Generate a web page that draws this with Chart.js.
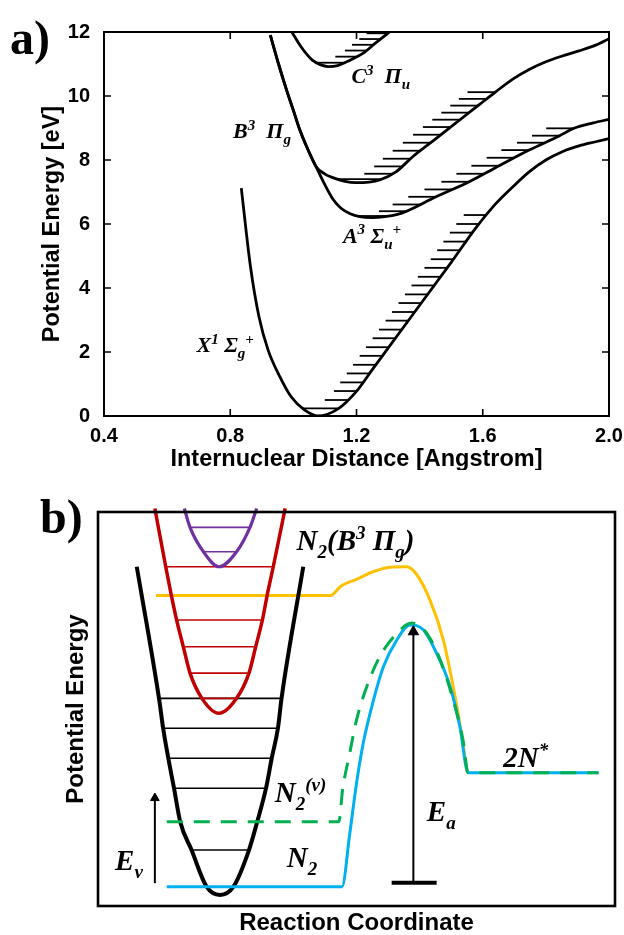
<!DOCTYPE html>
<html>
<head>
<meta charset="utf-8">
<script src="https://cdn.jsdelivr.net/npm/chart.js@4.4.0/dist/chart.umd.min.js"></script>
<style>
  html, body { margin: 0; padding: 0; background: #fff; }
  #wrap { position: relative; width: 624px; height: 935px; }
  canvas { position: absolute; left: 0; }
  #chartA { top: 0; }
  #chartB { top: 470px; }
</style>
</head>
<body>
<div id="wrap">
  <canvas id="chartA" width="624" height="470"></canvas>
  <canvas id="chartB" width="624" height="465"></canvas>
</div>
<script>
// ---------- panel a: N2 potential curves (r in Angstrom, E in eV) ----------
const xStateR = [0.835, 0.864, 0.891, 0.920, 0.957, 0.993, 1.035, 1.078, 1.144, 1.199, 1.25, 1.30, 1.40, 1.50, 1.58, 1.64, 1.694, 1.747, 1.80, 1.852, 1.905, 1.958, 2.0];
const xStateE = [7.12, 4.67, 3.10, 2.06, 1.23, 0.60, 0.19, 0.0, 0.24, 0.76, 1.45, 2.12, 3.46, 4.80, 5.90, 6.62, 7.15, 7.63, 8.0, 8.26, 8.44, 8.57, 8.67];
const xLevels = [0.24, 0.50, 0.78, 1.05, 1.33, 1.60, 1.88, 2.15, 2.43, 2.70, 2.98, 3.25, 3.53, 3.80, 4.08, 4.35, 4.63, 4.90, 5.18, 5.45, 5.73, 6.00, 6.28];

const aStateR = [0.927, 0.953, 0.978, 1.0, 1.02, 1.045, 1.072, 1.10, 1.125, 1.15, 1.18, 1.21, 1.25, 1.29, 1.33, 1.357, 1.452, 1.557, 1.652, 1.747, 1.842, 1.889, 1.95, 2.0];
const aStateE = [11.9, 11.0, 10.2, 9.55, 8.95, 8.35, 7.79, 7.22, 6.78, 6.50, 6.32, 6.23, 6.20, 6.23, 6.30, 6.39, 6.85, 7.32, 7.82, 8.31, 8.75, 8.99, 9.16, 9.27];
const aLevels = [6.25, 6.40, 6.61, 6.85, 7.08, 7.32, 7.57, 7.82, 8.07, 8.31, 8.54, 8.76, 8.99];

const bStateR = [0.927, 0.953, 0.978, 1.0, 1.02, 1.045, 1.072, 1.10, 1.125, 1.16, 1.199, 1.24, 1.273, 1.325, 1.378, 1.431, 1.484, 1.536, 1.589, 1.641, 1.694, 1.747, 1.80, 1.852, 1.905, 1.958, 2.0];
const bStateE = [11.9, 11.0, 10.2, 9.55, 8.95, 8.35, 7.79, 7.56, 7.45, 7.34, 7.29, 7.31, 7.375, 7.63, 8.10, 8.51, 8.92, 9.32, 9.73, 10.13, 10.52, 10.83, 11.07, 11.25, 11.41, 11.59, 11.79];
const bLevels = [7.40, 7.57, 7.80, 8.04, 8.29, 8.54, 8.79, 9.03, 9.26, 9.48, 9.70, 9.91, 10.12];

const cStateR = [0.995, 1.02, 1.04, 1.06, 1.085, 1.11, 1.14, 1.18, 1.22, 1.26, 1.305];
const cStateE = [12.0, 11.6, 11.33, 11.12, 10.98, 10.92, 10.95, 11.12, 11.33, 11.65, 12.0];
const cLevels = [11.04, 11.23, 11.42, 11.60, 11.78, 11.96];

const xTicksA = [0.4, 0.8, 1.2, 1.6, 2.0];
const yTicksA = [0, 2, 4, 6, 8, 10, 12];

// ---------- panel b: reaction coordinate sketch (arbitrary units 0-100) ----------
const blackX = [7.5, 11.8, 12.6, 13.6, 14.7, 15.9, 18.1, 21.0, 23.6, 26.2, 29.2, 30.8, 32.5, 33.6, 34.8, 35.5, 39.7];
const blackY = [86.1, 52.7, 45.1, 37.5, 29.9, 21.4, 14.2, 4.9, 2.8, 4.9, 14.2, 21.4, 29.9, 37.5, 45.1, 52.7, 86.1];
const blackLevels = [14.2, 29.9, 37.5, 45.1, 52.7];

const redX = [11.0, 13.1, 14.1, 15.2, 16.5, 17.8, 20.1, 23.4, 26.8, 29.2, 30.5, 31.8, 32.8, 33.9, 36.2];
const redY = [100.9, 86.1, 79.4, 72.6, 65.8, 59.1, 52.7, 48.9, 52.7, 59.1, 65.8, 72.6, 79.4, 86.1, 100.9];
const redLevels = [52.7, 59.1, 65.8, 72.6, 86.1];

const purpleX = [16.7, 17.8, 20.4, 23.4, 26.8, 29.4, 30.7];
const purpleY = [100.9, 96.1, 89.9, 86.1, 89.9, 96.1, 100.9];
const purpleLevels = [89.9, 96.1];

const orangeX = [11.2, 44.9, 47.1, 50.0, 53.3, 56.5, 59.7, 61.6, 64.2, 66.8, 68.7, 70.3, 71.4];
const orangeY = [78.8, 78.8, 81.3, 82.9, 84.9, 86.0, 86.1, 84.2, 77.7, 67.5, 55.7, 43.8, 34.0];

const cyanX = [13.3, 47.2, 48.7, 50.0, 51.3, 53.3, 55.2, 57.8, 60.3, 62.9, 65.5, 68.1, 70.0, 71.6, 96.8];
const cyanY = [4.9, 4.9, 18.4, 31.1, 41.3, 52.3, 60.7, 67.5, 71.3, 70.1, 64.1, 55.7, 45.5, 33.8, 33.8];

const greenX = [13.3, 46.6, 47.3, 48.7, 50.0, 52.0, 54.5, 57.8, 60.7, 63.6, 66.2, 68.7, 70.6, 71.6, 96.8];
const greenY = [21.4, 21.4, 29.4, 38.8, 47.2, 55.7, 63.3, 69.2, 71.8, 69.2, 62.4, 52.3, 42.1, 33.8, 33.8];

const evArrowX = [11.0, 11.0];
const evArrowY = [5.8, 27.4];
const eaArrowX = [61.0, 61.0];
const eaArrowY = [5.9, 69.6];
const eaBarX = [56.8, 65.5];
const eaBarY = [5.9, 5.9];

// ---------- helpers ----------
const SANS = '"Liberation Sans", Arial, sans-serif';
const SERIF = '"Liberation Serif", "Times New Roman", serif';

function pts(xs, ys) { return xs.map((x, i) => ({ x: x, y: ys[i] })); }

function curve(xs, ys, color, width, extra) {
  return Object.assign({
    data: pts(xs, ys), borderColor: color, borderWidth: width,
    pointRadius: 0, fill: false, cubicInterpolationMode: 'monotone'
  }, extra || {});
}

// where a curve crosses a given level, right (side 1) or left (side -1) of its minimum
function crossing(xs, ys, level, side) {
  const m = ys.indexOf(Math.min(...ys));
  for (let i = m; side > 0 ? i < xs.length - 1 : i > 0; i += side) {
    const j = i + side;
    if ((ys[i] - level) * (ys[j] - level) <= 0 && ys[j] !== ys[i]) {
      return xs[i] + (level - ys[i]) / (ys[j] - ys[i]) * (xs[j] - xs[i]);
    }
  }
  return null;
}

// vibrational levels: first one across the whole well, the rest as short hatches
function hatches(xs, ys, levels, len, color, width) {
  return levels.map((lv, k) => {
    const right = crossing(xs, ys, lv, 1);
    const left = k === 0 ? crossing(xs, ys, lv, -1) : right - len;
    return { data: [{ x: left, y: lv }, { x: right, y: lv }], borderColor: color, borderWidth: width, pointRadius: 0, tension: 0 };
  });
}

function fullLevels(xs, ys, levels, color, width) {
  return levels.map(lv => ({
    data: [{ x: crossing(xs, ys, lv, -1), y: lv }, { x: crossing(xs, ys, lv, 1), y: lv }],
    borderColor: color, borderWidth: width, pointRadius: 0, tension: 0, clip: false
  }));
}

function arrow(xs, ys, head) {
  return {
    data: pts(xs, ys), borderColor: '#000', borderWidth: 2, tension: 0,
    pointStyle: 'triangle', pointBackgroundColor: '#000', pointBorderColor: '#000', pointBorderWidth: 1,
    pointRadius: ctx => (ctx.dataIndex === 1 ? head : 0)
  };
}

function drawRich(ctx, x, y, parts, size) {
  let cx = x;
  ctx.textAlign = 'left';
  ctx.textBaseline = 'alphabetic';
  parts.forEach(([t, k]) => {
    const fs = k ? Math.round(size * 0.66) : size;
    ctx.font = 'italic bold ' + fs + 'px ' + SERIF;
    const dy = k === 'sup' ? -size * 0.38 : (k === 'sub' ? size * 0.28 : 0);
    ctx.fillText(t, cx, y + dy);
    cx += ctx.measureText(t).width;
  });
}

// frame, inward ticks, panel letter and annotations
function framePlugin(cfg) {
  return {
    id: 'frame',
    afterDatasetsDraw(chart) {
      const { ctx, chartArea: a, scales: { x, y } } = chart;
      ctx.save();
      ctx.strokeStyle = '#000';
      ctx.fillStyle = '#000';
      ctx.lineWidth = cfg.lineWidth;
      ctx.strokeRect(a.left, a.top, a.right - a.left, a.bottom - a.top);
      if (cfg.tickLength) {
        ctx.lineWidth = 1.6;
        ctx.beginPath();
        x.ticks.forEach(t => {
          const p = x.getPixelForValue(t.value);
          ctx.moveTo(p, a.bottom); ctx.lineTo(p, a.bottom - cfg.tickLength);
          ctx.moveTo(p, a.top); ctx.lineTo(p, a.top + cfg.tickLength);
        });
        y.ticks.forEach(t => {
          const p = y.getPixelForValue(t.value);
          ctx.moveTo(a.left, p); ctx.lineTo(a.left + cfg.tickLength, p);
          ctx.moveTo(a.right, p); ctx.lineTo(a.right - cfg.tickLength, p);
        });
        ctx.stroke();
      }
      cfg.labels.forEach(l => {
        drawRich(ctx, x.getPixelForValue(l.x), y.getPixelForValue(l.y), l.parts, cfg.labelSize);
      });
      ctx.font = 'bold ' + cfg.letterSize + 'px ' + SERIF;
      ctx.textAlign = 'left';
      ctx.textBaseline = 'alphabetic';
      ctx.fillText(cfg.letter, cfg.letterX, cfg.letterY);
      ctx.restore();
    }
  };
}

const tickFont = { family: SANS, size: 20, weight: 'bold' };

// ---------- chart a ----------
const dsA = [].concat(
  hatches(xStateR, xStateE, xLevels, 0.072, '#000', 1.8),
  hatches(aStateR, aStateE, aLevels, 0.088, '#000', 1.8),
  hatches(bStateR, bStateE, bLevels, 0.088, '#000', 1.8),
  hatches(cStateR, cStateE, cLevels, 0.068, '#000', 1.8),
  [
    curve(xStateR, xStateE, '#000', 2.8),
    curve(aStateR, aStateE, '#000', 2.8),
    curve(bStateR, bStateE, '#000', 2.8),
    curve(cStateR, cStateE, '#000', 2.8)
  ]
).reverse();

new Chart(document.getElementById('chartA'), {
  type: 'line',
  data: { datasets: dsA },
  options: {
    responsive: false, animation: false, devicePixelRatio: 1,
    layout: { padding: { left: 38, top: 32, right: 15, bottom: 0 } },
    plugins: { legend: { display: false }, tooltip: { enabled: false } },
    scales: {
      x: {
        type: 'linear', min: xTicksA[0], max: xTicksA[xTicksA.length - 1],
        afterFit: s => { s.height = 54; },
        afterBuildTicks: s => { s.ticks = xTicksA.map(v => ({ value: v })); },
        grid: { display: false }, border: { display: false },
        ticks: { callback: v => v.toFixed(1), color: '#000', font: tickFont, padding: 0, maxRotation: 0, autoSkip: false },
        title: { display: true, text: 'Internuclear Distance [Angstrom]', color: '#000', font: { family: SANS, size: 23.5, weight: 'bold' }, padding: { top: 0, bottom: -4 } }
      },
      y: {
        type: 'linear', min: yTicksA[0], max: yTicksA[yTicksA.length - 1],
        afterFit: s => { s.width = 66; },
        afterBuildTicks: s => { s.ticks = yTicksA.map(v => ({ value: v })); },
        grid: { display: false }, border: { display: false },
        ticks: { color: '#000', font: tickFont, padding: 6 },
        title: { display: true, text: 'Potential Energy [eV]', color: '#000', font: { family: SANS, size: 23.5, weight: 'bold' }, padding: 0 }
      }
    }
  },
  plugins: [framePlugin({
    lineWidth: 2, tickLength: 7, letter: 'a)', letterSize: 48, letterX: 10, letterY: 54, labelSize: 22,
    labels: [
      { x: 1.184, y: 10.40, parts: [['C', ''], ['3', 'sup'], ['  Π', ''], ['u', 'sub']] },
      { x: 0.809, y: 8.68, parts: [['B', ''], ['3', 'sup'], ['  Π', ''], ['g', 'sub']] },
      { x: 1.157, y: 5.42, parts: [['A', ''], ['3', 'sup'], [' Σ', ''], ['u', 'sub'], ['+', 'sup']] },
      { x: 0.693, y: 2.00, parts: [['X', ''], ['1', 'sup'], [' Σ', ''], ['g', 'sub'], ['+', 'sup']] }
    ]
  })]
});

// ---------- chart b ----------
const RED = '#c00000', PURPLE = '#7030a0', ORANGE = '#ffc000', CYAN = '#00b0f0', GREEN = '#00b050';

const dsB = [].concat(
  [curve(orangeX, orangeY, ORANGE, 3)],
  fullLevels(blackX, blackY, blackLevels, '#000', 1.6),
  fullLevels(redX, redY, redLevels, RED, 1.6),
  fullLevels(purpleX, purpleY, purpleLevels, PURPLE, 1.6),
  [
    curve(blackX, blackY, '#000', 4),
    curve(redX, redY, RED, 3.5, { clip: false }),
    curve(purpleX, purpleY, PURPLE, 3.2, { clip: false }),
    curve(cyanX, cyanY, CYAN, 3),
    curve(greenX, greenY, GREEN, 3, { borderDash: [16, 11] }),
    arrow(evArrowX, evArrowY, 5),
    arrow(eaArrowX, eaArrowY, 6),
    { data: pts(eaBarX, eaBarY), borderColor: '#000', borderWidth: 4, pointRadius: 0, tension: 0 }
  ]
).reverse();

new Chart(document.getElementById('chartB'), {
  type: 'line',
  data: { datasets: dsB },
  options: {
    responsive: false, animation: false, devicePixelRatio: 1,
    layout: { padding: { left: 62, top: 42, right: 9, bottom: 0 } },
    plugins: { legend: { display: false }, tooltip: { enabled: false } },
    scales: {
      x: {
        type: 'linear', min: 0, max: 100,
        afterFit: s => { s.height = 29; },
        grid: { display: false }, border: { display: false },
        ticks: { display: false },
        title: { display: true, text: 'Reaction Coordinate', color: '#000', font: { family: SANS, size: 24, weight: 'bold' }, padding: { top: 0, bottom: -3 } }
      },
      y: {
        type: 'linear', min: 0, max: 100,
        afterFit: s => { s.width = 36; },
        grid: { display: false }, border: { display: false },
        ticks: { display: false },
        title: { display: true, text: 'Potential Energy', color: '#000', font: { family: SANS, size: 24, weight: 'bold' }, padding: 0 }
      }
    }
  },
  plugins: [framePlugin({
    lineWidth: 2.6, tickLength: 0, letter: 'b)', letterSize: 48, letterX: 40, letterY: 63, labelSize: 29,
    labels: [
      { x: 38.4, y: 90.3, parts: [['N', ''], ['2', 'sub'], ['(B', ''], ['3', 'sup'], [' Π', ''], ['g', 'sub'], [')', '']] },
      { x: 78.4, y: 35.2, parts: [['2N', ''], ['*', 'sup']] },
      { x: 63.6, y: 21.6, parts: [['E', ''], ['a', 'sub']] },
      { x: 34.2, y: 26.5, parts: [['N', ''], ['2', 'sub'], ['(v)', 'sup']] },
      { x: 36.5, y: 10.0, parts: [['N', ''], ['2', 'sub']] },
      { x: 3.3, y: 9.1, parts: [['E', ''], ['v', 'sub']] }
    ]
  })]
});
</script>
</body>
</html>
